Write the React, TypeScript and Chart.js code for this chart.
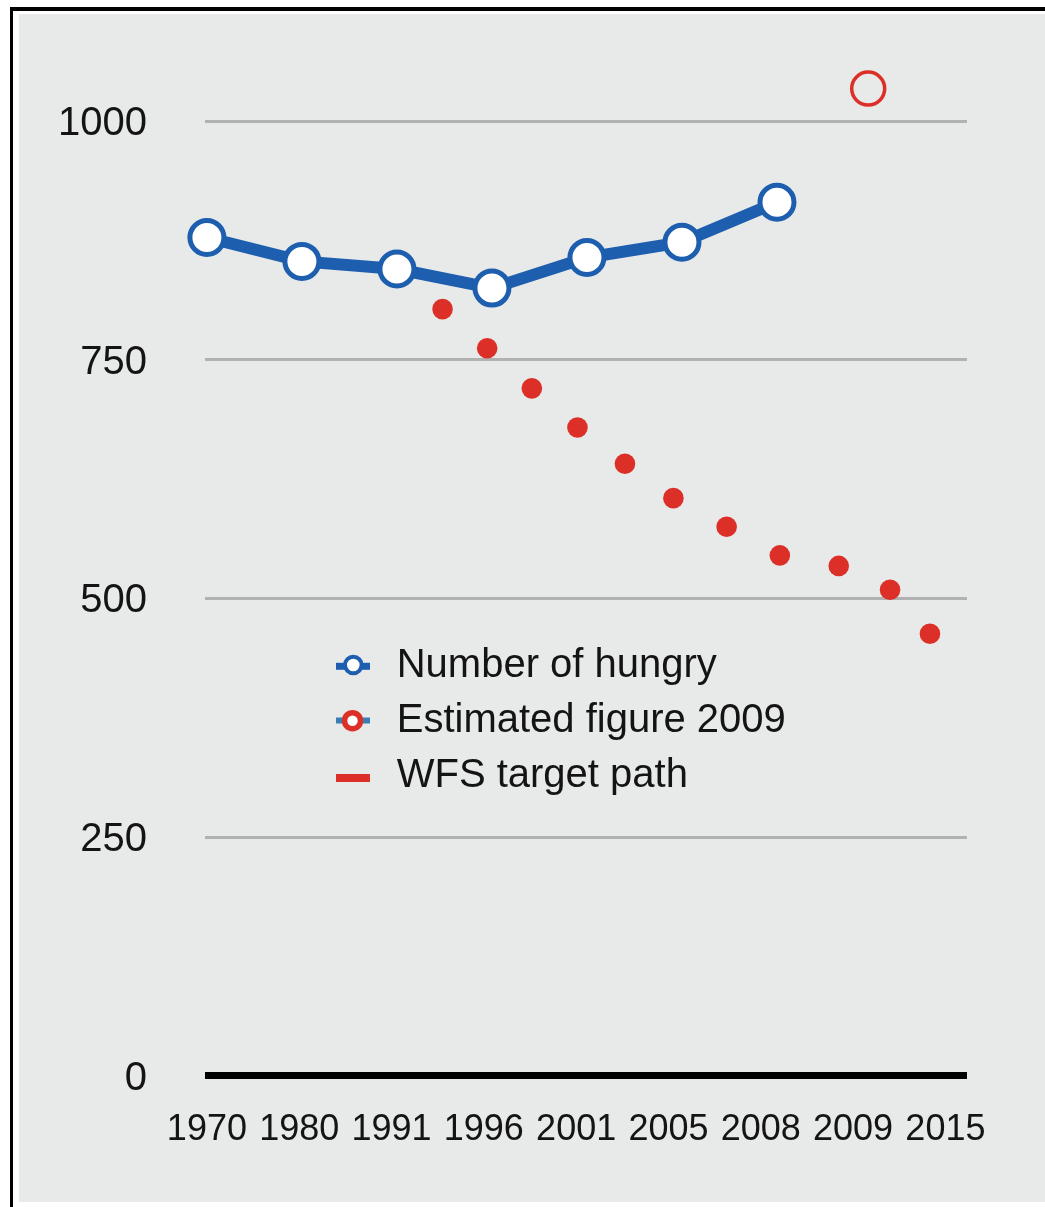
import React, { useEffect, useRef } from "react";
import { Chart, registerables } from "chart.js";

Chart.register(...registerables);

// ---- data ----
const YEAR_LABELS = ["1970", "1980", "1991", "1996", "2001", "2005", "2008", "2009", "2015"];
const Y_TICKS = [0, 250, 500, 750, 1000];

// Number of hungry (millions), at category positions 1970..2008
const HUNGRY_X = [0, 1, 2, 3, 4, 5, 6];
const HUNGRY_VALUES = [878, 853, 845, 825, 857, 873, 915];

// Estimated figure 2009
const ESTIMATE_X = [6.96];
const ESTIMATE_VALUES = [1034];

// WFS target path (dots between categories)
const TARGET_X = [2.48, 2.95, 3.42, 3.9, 4.4, 4.91, 5.47, 6.03, 6.65, 7.19, 7.61];
const TARGET_VALUES = [803, 762, 720, 679, 641, 605, 575, 545, 534, 509, 463];

const SERIES_LABELS = ["Number of hungry", "Estimated figure 2009", "WFS target path"];

// ---- styling ----
const BLUE = "#1d5eae";
const RED = "#dc2f27";
const LEGEND_BLUE2 = "#3a7fb4";
const GRID = "#b0b1b0";
const BG = "#e8e9e9";
const TEXT = "#141414";
const FONT = "'Liberation Sans', Arial, Helvetica, sans-serif";
const LABEL_STEP = 0.9716; // tick label spacing in x units

const legendPlugin = {
  id: "insideLegend",
  afterDraw(chart: any) {
    const ctx = chart.ctx as CanvasRenderingContext2D;
    const a = chart.chartArea;
    const ox = a.left;
    const oy = a.top;
    ctx.save();
    // row 1
    ctx.fillStyle = BLUE;
    ctx.fillRect(ox + 131, oy + 624.8, 34, 7);
    ctx.beginPath();
    ctx.arc(ox + 148.3, oy + 627, 8.3, 0, Math.PI * 2);
    ctx.fillStyle = "#ffffff";
    ctx.fill();
    ctx.lineWidth = 4;
    ctx.strokeStyle = BLUE;
    ctx.stroke();
    // row 2
    ctx.fillStyle = LEGEND_BLUE2;
    ctx.fillRect(ox + 131, oy + 679.5, 34, 6);
    ctx.beginPath();
    ctx.arc(ox + 147.5, oy + 682.7, 8, 0, Math.PI * 2);
    ctx.fillStyle = "#ffffff";
    ctx.fill();
    ctx.lineWidth = 5.5;
    ctx.strokeStyle = RED;
    ctx.stroke();
    // row 3
    ctx.fillStyle = RED;
    ctx.fillRect(ox + 131, oy + 736, 34, 8);
    // text
    ctx.fillStyle = TEXT;
    ctx.font = `40px ${FONT}`;
    ctx.textBaseline = "alphabetic";
    ctx.textAlign = "left";
    const baselines = [638.7, 693.7, 748.7];
    SERIES_LABELS.forEach((t, i) => ctx.fillText(t, ox + 191.7, oy + baselines[i]));
    ctx.restore();
  },
};

export default function App() {
  const ref = useRef<HTMLCanvasElement | null>(null);

  useEffect(() => {
    if (!ref.current) return;
    const chart = new Chart(ref.current, {
      type: "scatter",
      data: {
        datasets: [
          {
            label: SERIES_LABELS[0],
            data: HUNGRY_X.map((x, i) => ({ x, y: HUNGRY_VALUES[i] })),
            showLine: true,
            borderColor: BLUE,
            borderWidth: 12,
            tension: 0,
            pointRadius: 17,
            pointHoverRadius: 17,
            pointBorderWidth: 5,
            pointBorderColor: BLUE,
            pointBackgroundColor: "#ffffff",
            clip: false,
          },
          {
            label: SERIES_LABELS[1],
            data: ESTIMATE_X.map((x, i) => ({ x, y: ESTIMATE_VALUES[i] })),
            showLine: false,
            pointRadius: 16.5,
            pointBorderWidth: 3.5,
            pointBorderColor: RED,
            pointBackgroundColor: "rgba(0,0,0,0)",
            clip: false,
          },
          {
            label: SERIES_LABELS[2],
            data: TARGET_X.map((x, i) => ({ x, y: TARGET_VALUES[i] })),
            showLine: false,
            pointRadius: 10.3,
            pointBorderWidth: 0,
            pointBackgroundColor: RED,
            pointBorderColor: RED,
            clip: false,
          },
        ],
      },
      options: {
        responsive: false,
        animation: false,
        layout: { padding: { top: 24, right: 78, bottom: 0, left: 0 } },
        plugins: {
          legend: { display: false },
          tooltip: { enabled: false },
        },
        scales: {
          x: {
            type: "linear",
            min: -0.02,
            max: 8.0,
            grid: { display: false },
            border: { display: false },
            afterBuildTicks: (axis: any) => {
              axis.ticks = YEAR_LABELS.map((_, i) => ({ value: i * LABEL_STEP }));
            },
            afterFit: (s: any) => {
              s.height = 126.3;
              s.paddingLeft = 0;
              s.paddingRight = 0;
            },
            ticks: {
              autoSkip: false,
              maxRotation: 0,
              padding: 25,
              color: TEXT,
              font: { size: 36, family: FONT },
              callback: (_v: any, i: number) => YEAR_LABELS[i],
            },
          },
          y: {
            type: "linear",
            min: 0,
            max: 1087,
            border: { display: false },
            afterBuildTicks: (axis: any) => {
              axis.ticks = Y_TICKS.map((v) => ({ value: v }));
            },
            afterFit: (s: any) => {
              s.width = 186;
              s.paddingTop = 0;
              s.paddingBottom = 0;
            },
            grid: {
              drawTicks: false,
              color: (c: any) => (c.tick && c.tick.value === 0 ? "#000000" : GRID),
              lineWidth: (c: any) => (c.tick && c.tick.value === 0 ? 7 : 3),
            },
            ticks: {
              padding: 58,
              labelOffset: 3,
              color: TEXT,
              font: { size: 40, family: FONT },
              callback: (v: any) => String(v),
            },
          },
        },
      },
      plugins: [legendPlugin],
    });
    return () => chart.destroy();
  }, []);

  return (
    <div style={{ position: "absolute", left: 0, top: 0, width: 1045, height: 1207, background: "#ffffff", overflow: "hidden" }}>
      <div
        style={{
          position: "absolute",
          left: 10,
          top: 7,
          width: 1035,
          height: 1200,
          borderLeft: "3px solid #000",
          borderTop: "4px solid #000",
          boxSizing: "border-box",
        }}
      />
      <div style={{ position: "absolute", left: 19, top: 14, width: 1026, height: 1188, background: BG }}>
        <canvas ref={ref} width={1026} height={1188} style={{ display: "block" }} />
      </div>
    </div>
  );
}
